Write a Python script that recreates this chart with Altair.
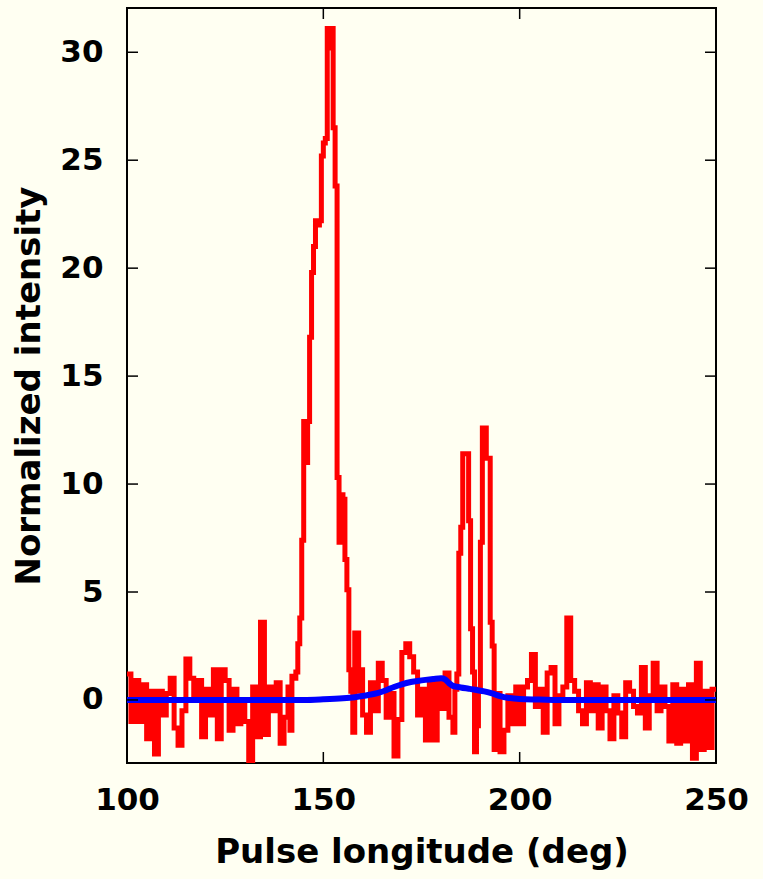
import altair as alt
import pandas as pd

# Red single-pulse profile (bin start longitude in deg, normalized intensity)
red_longitude = [
    100, 101, 102, 103, 104, 105, 106, 107, 108, 109, 110, 111, 112, 113, 114, 115, 116, 117, 118, 119,
    120, 121, 122, 123, 124, 125, 126, 127, 128, 129, 130, 131, 132, 133, 134, 135, 136, 137, 138, 139,
    140, 141, 141.5, 142, 142.5, 143, 143.5, 144, 144.5, 145, 145.5, 146, 146.5, 147, 147.5, 148, 148.5,
    149, 149.5, 150, 150.5, 151, 151.5, 152, 152.5, 153, 153.5, 154, 154.5, 155, 155.5, 156, 156.5, 157,
    157.5, 158, 158.5, 159, 159.5,
    160, 161, 162, 163, 164, 165, 166, 167, 168, 169, 170, 171, 172, 173, 174, 175, 176, 177, 178, 179,
    180, 181, 182, 183, 183.5, 184, 184.5, 185, 185.5, 186, 186.5, 187, 187.5, 188, 188.5, 189, 189.5,
    190, 190.5, 191, 191.5, 192, 192.5, 193, 193.5,
    194, 195, 196, 197, 198, 199, 200, 201, 202, 203, 204, 205, 206, 207, 208, 209, 210, 211, 212, 213,
    214, 215, 216, 217, 218, 219, 220, 221, 222, 223, 224, 225, 226, 227, 228, 229, 230, 231, 232, 233,
    234, 235, 236, 237, 238, 239, 240, 241, 242, 243, 244, 245, 246, 247, 248, 249, 250,
]
red_intensity = [
    1.2, -1.0, 0.9, -1.0, 0.7, -1.8, 0.4, -2.5, 0.4, -0.7, 0.3, 1.0, -1.3, -2.1, -0.5, 1.9, 1.0, 0.2, 0.9, -1.7,
    0.5, -0.7, 1.4, -1.8, 1.4, 0.9, -1.4, 0.5, -1.1, -0.1, -1.0, -2.8, 0.6, -1.7, 3.6, -1.6, 0.6, -0.5, 0.8, -2.0,
    -0.8, 0.6, -1.4, 1.1, 1.0, 1.3, 2.6, 3.8, 7.4, 12.9, 11.0, 12.9, 16.8, 19.8, 21.0, 22.2, 22.0,
    22.2, 25.2, 25.8, 26.0, 31.1, 30.2, 31.1, 26.5, 23.8, 10.3, 7.3, 9.5, 9.3, 6.5, 5.1, 1.4, 0.4,
    -1.5, 3.1, 3.1, 0.4, 1.4,
    -0.7, -1.5, 0.8, -0.5, 1.7, 0.9, -0.8, 0.3, -2.6, -0.9, 2.2, 2.6, 2.0, 1.3, -0.7, 0.5, -1.85, 0.8, -1.85, 0.9,
    -0.4, 1.25, -0.8, -1.5, 0.5, 1.2, 6.8, 8.0, 11.4, 11.4, 11.4, 8.3, 3.3, 1.3, -2.4, -1.2, 0.5,
    7.3, 12.6, 12.6, 11.2, 11.2, 3.6, 2.5, -2.3,
    0.3, -2.4, -1.4, 0.2, -1.1, 0.6, -1.1, 0.6, 0.9, 2.1, -0.3, 0.5, -1.5, 1.25, 1.5, -1.1, 0.2, 0.6, 3.8, 0.9,
    0.4, -0.5, -1.1, 0.8, -0.5, 0.7, -1.3, 0.6, -0.5, -1.8, 0.2, -0.6, -1.7, 0.8, 0.4, -0.3, -0.6, 1.5, -1.3, 0.2,
    1.7, -0.5, 0.6, -0.3, -1.9, 0.7, -2.0, 0.5, -1.9, 0.7, -2.7, 1.7, -2.3, 0.4, -2.2, 0.5, 0.5,
]

# Blue average profile
blue_longitude = [100, 120, 145, 150, 155, 158, 160, 162, 164, 166, 168, 170, 172, 174, 176, 178, 180,
                  181, 182, 183, 185, 187, 189, 191, 193, 195, 197, 200, 205, 210, 230, 250]
blue_intensity = [0.0, 0.0, 0.0, 0.03, 0.08, 0.13, 0.18, 0.25, 0.33, 0.45, 0.6, 0.72, 0.82, 0.88, 0.93, 0.97, 1.0,
                  0.95, 0.78, 0.65, 0.58, 0.52, 0.46, 0.4, 0.3, 0.18, 0.1, 0.04, 0.02, 0.0, 0.0, 0.0]

x_ticks = [100, 150, 200, 250]
y_ticks = [0, 5, 10, 15, 20, 25, 30]

W, H = 589, 755
FONT = "DejaVu Sans"

xscale = alt.Scale(domain=[100, 250], nice=False, zero=False)
yscale = alt.Scale(domain=[-2.92, 32.05], nice=False, zero=False)

red_df = pd.DataFrame({"lon": red_longitude, "val": red_intensity})
blue_df = pd.DataFrame({"lon": blue_longitude, "val": blue_intensity})
xt_df = pd.DataFrame({"lon": x_ticks})
yt_df = pd.DataFrame({"val": y_ticks})

red = alt.Chart(red_df).mark_line(color="#ff0000", strokeWidth=5, interpolate="step-after", clip=True).encode(
    x=alt.X("lon:Q", scale=xscale, title="Pulse longitude (deg)",
            axis=alt.Axis(values=x_ticks, ticks=False, domain=False, grid=False, labelFont=FONT,
                          labelFontSize=31, labelFontWeight="bold", labelColor="black", labelPadding=22,
                          titleFont=FONT, titleFontSize=34, titleFontWeight="bold", titleColor="black",
                          titlePadding=20, labelFlush=False)),
    y=alt.Y("val:Q", scale=yscale, title="Normalized intensity",
            axis=alt.Axis(values=y_ticks, ticks=False, domain=False, grid=False, labelFont=FONT,
                          labelFontSize=31, labelFontWeight="bold", labelColor="black", labelPadding=24,
                          titleFont=FONT, titleFontSize=34, titleFontWeight="bold", titleColor="black",
                          titlePadding=13, labelFlush=False)),
)

blue = alt.Chart(blue_df).mark_line(color="#0000ff", strokeWidth=6, interpolate="monotone", clip=True).encode(
    x=alt.X("lon:Q", scale=xscale),
    y=alt.Y("val:Q", scale=yscale),
)

tick_style = dict(color="black", strokeWidth=1.5)
xt_bottom = alt.Chart(xt_df).mark_rule(**tick_style).encode(
    x=alt.X("lon:Q", scale=xscale), y=alt.value(H), y2=alt.value(H - 11))
xt_top = alt.Chart(xt_df).mark_rule(**tick_style).encode(
    x=alt.X("lon:Q", scale=xscale), y=alt.value(0), y2=alt.value(11))
yt_left = alt.Chart(yt_df).mark_rule(**tick_style).encode(
    y=alt.Y("val:Q", scale=yscale), x=alt.value(0), x2=alt.value(11))
yt_right = alt.Chart(yt_df).mark_rule(**tick_style).encode(
    y=alt.Y("val:Q", scale=yscale), x=alt.value(W), x2=alt.value(W - 11))

chart = alt.layer(red, blue, xt_bottom, xt_top, yt_left, yt_right).properties(
    width=W, height=H,
    autosize=alt.AutoSizeParams(type="none"),
    padding={"left": 127, "top": 8, "right": 47, "bottom": 116},
    background="#fffff2",
).configure_view(stroke="black", strokeWidth=2, fill="#fffff2")

chart.save("out.html", embed_options={"renderer": "svg", "actions": False})
